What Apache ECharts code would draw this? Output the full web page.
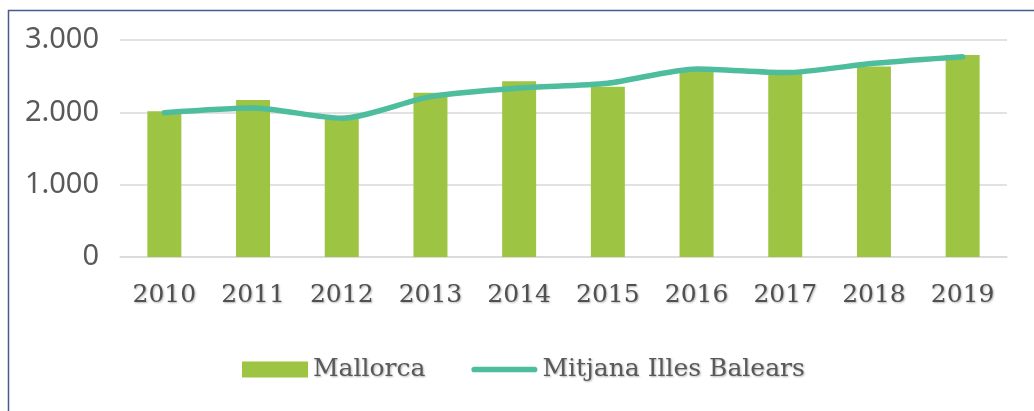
<!DOCTYPE html>
<html>
<head>
<meta charset="utf-8">
<script src="https://cdn.jsdelivr.net/npm/echarts@6/dist/echarts.min.js"></script>
<style>
  html, body { margin: 0; padding: 0; background: #fff; }
  #chart { width: 1034px; height: 411px; }
</style>
</head>
<body>
<div id="chart"></div>
<script>
const years = ["2010", "2011", "2012", "2013", "2014", "2015", "2016", "2017", "2018", "2019"];
const mallorca = [2015, 2170, 1930, 2272, 2430, 2355, 2586, 2545, 2632, 2794];
const mitjanaBalears = [1995, 2060, 1918, 2217, 2337, 2402, 2600, 2549, 2679, 2770];
const yTickLabels = ["0", "1.000", "2.000", "3.000"];

const labelGray = "#595959";
const serifFont = "'DejaVu Serif', serif";
const textShadow = {
  textShadowColor: "rgba(0,0,0,0.3)",
  textShadowBlur: 2,
  textShadowOffsetX: 1,
  textShadowOffsetY: 1,
};

const chart = echarts.init(document.getElementById("chart"), null, { renderer: "canvas" });

chart.setOption({
  backgroundColor: "#ffffff",
  animation: false,
  graphic: [
    { type: "line", shape: { x1: 8, y1: 10.5, x2: 1034, y2: 10.5 }, style: { stroke: "#4a5a8c", lineWidth: 1.5 } },
    { type: "line", shape: { x1: 8.5, y1: 10, x2: 8.5, y2: 411 }, style: { stroke: "#4a5a8c", lineWidth: 1.5 } },
  ],
  grid: {
    left: 120,
    right: 27,
    top: 40,
    bottom: 154,
  },
  legend: {
    left: 242,
    top: 357,
    padding: 0,
    itemWidth: 66,
    itemHeight: 16,
    itemGap: 46,
    textStyle: {
      color: labelGray,
      fontFamily: serifFont,
      fontSize: 25,
      ...textShadow,
    },
    data: [
      { name: "Mallorca", icon: "rect" },
      {
        name: "Mitjana Illes Balears",
        icon: "path://M3,0 H66 A3,3 0 0 1 66,6 H3 A3,3 0 0 1 3,0 Z",
        itemStyle: { color: "#4dbd9e" },
      },
    ],
  },
  xAxis: {
    type: "category",
    data: years,
    axisTick: { show: false },
    axisLine: { lineStyle: { color: "#d9d9d9", width: 1.5 } },
    axisLabel: {
      color: "#505050",
      fontFamily: serifFont,
      fontSize: 25,
      margin: 26,
      ...textShadow,
    },
  },
  yAxis: {
    type: "value",
    min: 0,
    max: 3000,
    interval: 1000,
    axisLine: { show: false },
    axisTick: { show: false },
    splitLine: { lineStyle: { color: "#d9d9d9", width: 1.5 } },
    axisLabel: {
      color: labelGray,
      fontFamily: "'Noto Sans', sans-serif",
      fontSize: 29,
      margin: 21,
      formatter: (value) => yTickLabels[Math.round(value / 1000)],
    },
  },
  series: [
    {
      name: "Mallorca",
      type: "bar",
      data: mallorca,
      barWidth: 34,
      itemStyle: { color: "#9dc543" },
    },
    {
      name: "Mitjana Illes Balears",
      type: "line",
      data: mitjanaBalears,
      smooth: 0.25,
      symbol: "none",
      lineStyle: { color: "#4dbd9e", width: 5.5, cap: "round" },
      itemStyle: { color: "#4dbd9e" },
    },
  ],
});
</script>
</body>
</html>
